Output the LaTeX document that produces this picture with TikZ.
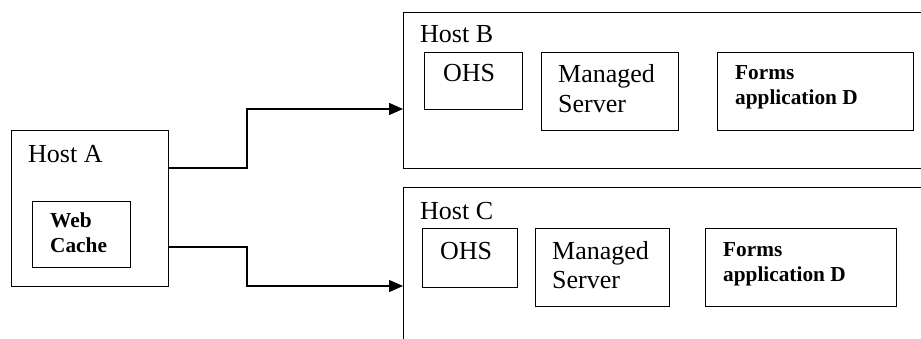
\documentclass[tikz,border=0pt]{standalone}
\usepackage{fontspec}
\setmainfont{Liberation Serif}
\usetikzlibrary{arrows.meta}
\begin{document}
\begin{tikzpicture}[x=1pt,y=-1pt,
  box/.style={draw, line width=1.4pt, rectangle, anchor=north west, inner sep=0pt},
  lbl/.style={anchor=base west, inner sep=0pt, font=\fontsize{26}{30}\selectfont},
  blbl/.style={anchor=base west, inner sep=0pt, font=\fontsize{21.3}{25}\selectfont\bfseries},
  arr/.style={line width=1.4pt, -{Triangle[length=14pt,width=12pt]}}]
\useasboundingbox (0,0) rectangle (921,339);
\clip (0,0) rectangle (921,339);
\fill[white] (0,0) rectangle (921,339);
% Host A
\node[box, minimum width=157pt, minimum height=156pt] (hostA) at (11,130) {};
\node[lbl] (labA) at (28,163) {Host A};
\node[box, minimum width=98pt, minimum height=66pt] (wc) at (32,201) {};
\node[blbl] (wc1) at (50,228) {Web};
\node[blbl] (wc2) at (50,253) {Cache};
% Host B
\node[box, minimum width=540pt, minimum height=156pt] (hostB) at (403,12) {};
\node[lbl] (labB) at (420,43) {Host B};
\node[box, minimum width=98pt, minimum height=57pt] (ohsB) at (424,52) {};
\node[lbl] (ohsBt) at (443,82) {OHS};
\node[box, minimum width=137pt, minimum height=78pt] (msB) at (541,52) {};
\node[lbl] (msB1) at (558,83) {Managed};
\node[lbl] (msB2) at (558,113) {Server};
\node[box, minimum width=196pt, minimum height=78pt] (fB) at (717,52) {};
\node[blbl] (fB1) at (735,80) {Forms};
\node[blbl] (fB2) at (735,105) {application D};
% Host C
\node[box, minimum width=540pt, minimum height=180pt] (hostC) at (403,187) {};
\node[lbl] (labC) at (420,220) {Host C};
\node[box, minimum width=95pt, minimum height=59pt] (ohsC) at (422,228) {};
\node[lbl] (ohsCt) at (440,259) {OHS};
\node[box, minimum width=134pt, minimum height=78pt] (msC) at (535,228) {};
\node[lbl] (msC1) at (552,259) {Managed};
\node[lbl] (msC2) at (552,288) {Server};
\node[box, minimum width=191pt, minimum height=78pt] (fC) at (705,228) {};
\node[blbl] (fC1) at (723,256) {Forms};
\node[blbl] (fC2) at (723,281) {application D};
% connectors
\draw[arr] (hostA.east |- 0,168) -- (247,168) -- (247,109) -- (hostB.west |- 0,109);
\draw[arr] (hostA.east |- 0,247) -- (247,247) -- (247,286) -- (hostC.west |- 0,286);
\end{tikzpicture}
\end{document}
